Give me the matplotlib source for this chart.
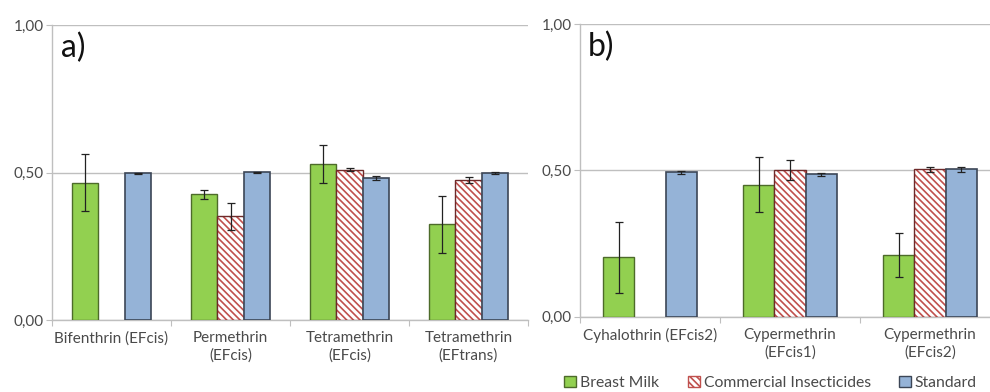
import matplotlib
matplotlib.use("Agg")
import matplotlib.pyplot as plt
from matplotlib.patches import Patch
import numpy as np

plt.rcParams['font.family'] = ['Lato', 'DejaVu Sans']
plt.rcParams['hatch.linewidth'] = 1.2

series = ["Breast Milk", "Commercial Insecticides", "Standard"]

# Panel a
cats_a = ["Bifenthrin (EFcis)", "Permethrin\n(EFcis)", "Tetramethrin\n(EFcis)", "Tetramethrin\n(EFtrans)"]
milk_a = [0.466, 0.426, 0.529, 0.324]
milk_a_err = [0.098, 0.016, 0.065, 0.098]
insect_a = [np.nan, 0.352, 0.509, 0.476]
insect_a_err = [np.nan, 0.046, 0.005, 0.010]
std_a = [0.497, 0.501, 0.481, 0.498]
std_a_err = [0.003, 0.002, 0.008, 0.004]

# Panel b
cats_b = ["Cyhalothrin (EFcis2)", "Cypermethrin\n(EFcis1)", "Cypermethrin\n(EFcis2)"]
milk_b = [0.203, 0.451, 0.211]
milk_b_err = [0.122, 0.095, 0.075]
insect_b = [np.nan, 0.501, 0.503]
insect_b_err = [np.nan, 0.035, 0.010]
std_b = [0.493, 0.486, 0.504]
std_b_err = [0.004, 0.005, 0.008]

yticks = [0.0, 0.5, 1.0]
ytick_labels = ["0,00", "0,50", "1,00"]

GREEN = "#92d050"
GREEN_EDGE = "#4d6b2a"
BLUE = "#95b3d7"
BLUE_EDGE = "#3c4656"
HATCH_RED = "#c0504d"
HATCH_EDGE = "#6e2a2a"
GRID = "#bfbfbf"
TEXT = "#4a4a4a"
HATCH = "\\\\\\\\\\"

W, H = 990, 392
fig = plt.figure(figsize=(W / 100, H / 100), dpi=100)


def px_axes(left, right, bottom, top):
    return fig.add_axes([left / W, (H - bottom) / H, (right - left) / W, (bottom - top) / H])


def panel(ax, cats, milk, milk_err, insect, insect_err, std, std_err, tag):
    n = len(cats)
    x = np.arange(n)
    bw = 0.222
    ekw = dict(ecolor="#222222", elinewidth=0.9, capsize=3, capthick=0.9)
    ax.bar(x - bw, milk, bw, yerr=milk_err, color=GREEN, edgecolor=GREEN_EDGE,
           linewidth=1.0, error_kw=ekw, zorder=3)
    ax.bar(x, insect, bw, yerr=insect_err, color="white", edgecolor=HATCH_RED,
           hatch=HATCH, linewidth=0, error_kw=ekw, zorder=3)
    ax.bar(x, insect, bw, color="none", edgecolor=HATCH_EDGE, linewidth=1.0, zorder=3)
    ax.bar(x + bw, std, bw, yerr=std_err, color=BLUE, edgecolor=BLUE_EDGE,
           linewidth=1.2, error_kw=ekw, zorder=3)

    ax.set_xlim(-0.5, n - 0.5)
    ax.set_ylim(0, 1.0)
    ax.set_yticks(yticks)
    ax.set_yticklabels(ytick_labels)
    ax.yaxis.grid(True, color=GRID, linewidth=1.0, zorder=0)
    ax.set_axisbelow(True)
    for s in ["top", "right"]:
        ax.spines[s].set_visible(False)
    for s in ["left", "bottom"]:
        ax.spines[s].set_color(GRID)
        ax.spines[s].set_linewidth(1.0)
    ax.set_xticks(np.arange(n + 1) - 0.5, minor=False)
    ax.set_xticklabels([])
    ax.set_xticks(x, minor=True)
    ax.set_xticklabels(cats, minor=True, fontsize=11, color=TEXT, linespacing=1.3)
    ax.tick_params(axis="x", which="major", length=4, color=GRID, direction="out")
    ax.tick_params(axis="x", which="minor", length=0, pad=8)
    ax.tick_params(axis="y", length=4, color=GRID, labelsize=11, labelcolor=TEXT, pad=2)
    ax.text(0.018, 0.975, tag, transform=ax.transAxes, fontsize=23, color="#111111",
            va="top", ha="left")


ax_a = px_axes(52, 528, 320, 25)
panel(ax_a, cats_a, milk_a, milk_a_err, insect_a, insect_a_err, std_a, std_a_err, "a)")

ax_b = px_axes(580, 1000, 316.7, 24)
panel(ax_b, cats_b, milk_b, milk_b_err, insect_b, insect_b_err, std_b, std_b_err, "b)")

handles = [
    Patch(facecolor=GREEN, edgecolor=GREEN_EDGE, label=series[0]),
    Patch(facecolor="white", edgecolor=HATCH_RED, hatch=HATCH, label=series[1]),
    Patch(facecolor=BLUE, edgecolor=BLUE_EDGE, label=series[2]),
]
# one legend entry per series, laid out along the bottom right
for handle, x_px in zip(handles, [564, 688, 899]):
    fig.legend(handles=[handle], loc="center left", bbox_to_anchor=(x_px / W, (H - 383) / H),
               frameon=False, fontsize=11.3, labelcolor=TEXT,
               handlelength=0.75, handleheight=0.75, handletextpad=0.25,
               borderaxespad=0, borderpad=0)

fig.savefig("out.png", dpi=100)
